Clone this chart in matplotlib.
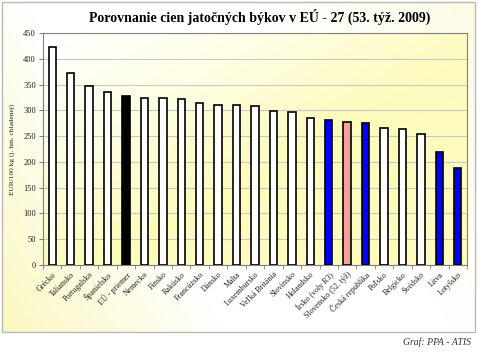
import numpy as np
import matplotlib
matplotlib.use('Agg')
import matplotlib.pyplot as plt
from matplotlib.colors import LinearSegmentedColormap
from matplotlib.patches import Rectangle

# Data
countries = ['Grécko', 'Taliansko', 'Portugalsko', 'Španielsko', 'EÚ - priemer',
             'Nemecko', 'Fínsko', 'Rakúsko', 'Francúzsko', 'Dánsko', 'Malta',
             'Luxembursko', 'Veľká Británia', 'Slovinsko', 'Holandsko',
             'Írsko (voly R3)', 'Slovensko (52. týž)', 'Česká republika',
             'Poľsko', 'Belgicko', 'Švédsko', 'Litva', 'Lotyšsko']
prices = [422, 372, 348, 335, 327, 324.5, 323, 322, 314, 311, 309.5, 307.5,
          299, 296.5, 284.5, 280.5, 276.5, 274.5, 265, 263, 255, 218.5, 188.5]
bar_colors = ['white'] * len(countries)
bar_colors[4] = 'black'
bar_colors[15] = '#0000ff'
bar_colors[16] = '#f4a09c'
bar_colors[17] = '#0000ff'
bar_colors[21] = '#0000ff'
bar_colors[22] = '#0000ff'

plt.rcParams['font.family'] = ['Liberation Serif', 'DejaVu Serif']

fig = plt.figure(figsize=(4.78, 3.56), dpi=100)

# outer chart area with soft gradient
bg = fig.add_axes([0, 0, 1, 1], zorder=-5)
bg.set_xlim(0, 478)
bg.set_ylim(356, 0)
bg.axis('off')
outer_cmap = LinearSegmentedColormap.from_list('o', ['#fbf8c0', '#ffffff', '#ffffff', '#fdfbe6'])
xx, yy = np.meshgrid(np.linspace(0, 1, 200), np.linspace(0, 1, 150))
bg.imshow(0.7 * xx + 0.3 * (1 - yy), cmap=outer_cmap, extent=[2, 475, 332, 2],
          aspect='auto', zorder=0)
bg.add_patch(Rectangle((2, 2), 473, 330, fill=False, edgecolor='#b8b8b8', lw=1, zorder=1))

ax = fig.add_axes([43 / 478, 91 / 356, 424 / 478, 232 / 356])
x = np.arange(len(countries))
ax.set_xlim(-0.5, len(countries) - 0.5)
ax.set_ylim(0, 450)

# plot area gradient: white top-left, pale yellow towards bottom-right
inner_cmap = LinearSegmentedColormap.from_list('i', ['#ffffff', '#fefee4', '#fdfbbc', '#fdfbc0'])
g = 0.6 * xx + 0.6 * yy
ax.imshow(np.clip(g, 0, 1), cmap=inner_cmap, extent=[-0.5, len(countries) - 0.5, 0, 450],
          aspect='auto', zorder=0, origin='upper')

ax.yaxis.grid(True, color='#c8c8c8', lw=0.8, zorder=1)
ax.bar(x, prices, width=0.4, color=bar_colors, edgecolor='black', lw=1.2, zorder=3)

ax.set_yticks(range(0, 451, 50))
ax.set_xticks(x)
ax.set_xticklabels(countries, rotation=45, ha='right', rotation_mode='anchor',
                   fontsize=5.8, color='#222222')
ax.tick_params(axis='x', length=0, pad=4)
ax.set_xticks(np.arange(-0.5, len(countries), 1), minor=True)
ax.tick_params(axis='x', which='minor', length=3, color='#808080')
ax.tick_params(axis='y', labelsize=6, length=3, color='#808080', pad=2, labelcolor='#222222')
for s in ax.spines.values():
    s.set_color('#808080')
    s.set_linewidth(0.8)

ax.set_ylabel('EUR/100 kg (j. hm. chladenej)', fontsize=5.3, labelpad=6, color='#222222')

fig.text(0.544, 0.952, 'Porovnanie cien jatočných býkov v EÚ - 27 (53. týž. 2009)',
         ha='center', va='center', fontsize=10, fontweight='bold')
fig.text(0.985, 0.04, 'Graf: PPA - ATIS', ha='right', va='center', fontsize=7,
         style='italic', color='#333333')

fig.savefig('out.png', dpi=100)
